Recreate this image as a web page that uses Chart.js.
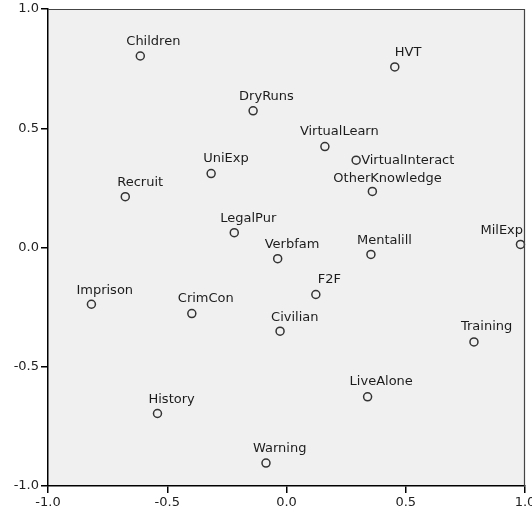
<!DOCTYPE html>
<html>
<head>
<meta charset="utf-8">
<script src="https://cdn.jsdelivr.net/npm/chart.js@4/dist/chart.umd.min.js"></script>
<style>
html,body{margin:0;padding:0;background:#fff;}
#wrap{width:532px;height:511px;position:relative;}
</style>
</head>
<body>
<div id="wrap"><canvas id="c" width="532" height="511"></canvas></div>
<script>
const labels = ["Children","HVT","DryRuns","VirtualLearn","VirtualInteract","OtherKnowledge","UniExp","Recruit","LegalPur","Verbfam","Mentalill","MilExp","Imprison","CrimCon","F2F","Civilian","Training","LiveAlone","History","Warning"];
const xValues = [-0.613,0.454,-0.140,0.161,0.292,0.360,-0.316,-0.676,-0.219,-0.037,0.354,0.981,-0.818,-0.397,0.123,-0.027,0.786,0.340,-0.541,-0.086];
const yValues = [0.803,0.757,0.573,0.423,0.366,0.235,0.310,0.213,0.062,-0.047,-0.029,0.013,-0.238,-0.277,-0.197,-0.351,-0.396,-0.626,-0.696,-0.904];
const tickValues = [-1.0,-0.5,0.0,0.5,1.0];

// label placement (pixel offsets of the text's left edge / vertical centre from the marker)
const labelPlacement = {
  "Children":[-14,-14],"HVT":[0,-14],"DryRuns":[-14,-14],"VirtualLearn":[-25,-15],
  "VirtualInteract":[5,0],"OtherKnowledge":[-39,-13],"UniExp":[-8,-15],"Recruit":[-8,-14],
  "LegalPur":[-14,-14],"Verbfam":[-13,-14],"Mentalill":[-14,-14],"MilExp":[-40,-14],
  "Imprison":[-15,-14],"CrimCon":[-14,-15],"F2F":[2,-15],"Civilian":[-9,-14],
  "Training":[-13,-15],"LiveAlone":[-18,-15],"History":[-9,-14],"Warning":[-13,-14]
};

const points = xValues.map((x,i)=>({x:x,y:yValues[i],label:labels[i]}));

const framePlugin = {
  id:'frame',
  beforeDraw(chart){
    const {ctx, chartArea:a} = chart;
    ctx.save();
    ctx.fillStyle = '#f0f0f0';
    ctx.fillRect(a.left, a.top, a.right-a.left, a.bottom-a.top);
    ctx.restore();
  },
  afterDraw(chart){
    const {ctx, chartArea:a} = chart;
    ctx.save();
    ctx.strokeStyle = '#444';
    ctx.lineWidth = 1.2;
    ctx.beginPath();
    ctx.moveTo(a.left, a.top+0.5);
    ctx.lineTo(a.right-0.5, a.top+0.5);
    ctx.lineTo(a.right-0.5, a.bottom);
    ctx.stroke();
    ctx.restore();
  }
};

const labelPlugin = {
  id:'pointLabels',
  afterDatasetsDraw(chart){
    const ctx = chart.ctx;
    const meta = chart.getDatasetMeta(0);
    ctx.save();
    ctx.font = '13px "DejaVu Sans"';
    ctx.fillStyle = '#1c1c1c';
    ctx.textAlign = 'left';
    ctx.textBaseline = 'middle';
    meta.data.forEach((el,i)=>{
      const lab = labels[i];
      const off = labelPlacement[lab] || [-10,-14];
      ctx.fillText(lab, el.x + off[0], el.y + off[1]);
    });
    ctx.restore();
  }
};

new Chart(document.getElementById('c'), {
  type:'scatter',
  data:{
    datasets:[{
      data: points,
      pointStyle:'circle',
      pointRadius:4,
      pointHoverRadius:4,
      pointBorderWidth:1.5,
      pointBorderColor:'#333',
      pointBackgroundColor:'rgba(0,0,0,0)',
      clip:false
    }]
  },
  options:{
    responsive:false,
    animation:false,
    devicePixelRatio:1,
    layout:{padding:{top:9,right:7,left:0,bottom:0}},
    plugins:{legend:{display:false},tooltip:{enabled:false}},
    scales:{
      x:{
        type:'linear', min:-1, max:1,
        afterBuildTicks(s){ s.ticks = tickValues.map(v=>({value:v})); },
        afterFit(s){ s.height = 25; s.paddingLeft = 0; s.paddingRight = 0; },
        border:{display:true,color:'#000',width:1.5},
        grid:{drawOnChartArea:false,drawTicks:true,tickLength:7,color:'#000',lineWidth:1.5},
        ticks:{padding:2,color:'#222',font:{family:'"DejaVu Sans"',size:13},maxRotation:0,
          callback:(v)=>Number(v).toFixed(1)}
      },
      y:{
        type:'linear', min:-1, max:1,
        afterBuildTicks(s){ s.ticks = tickValues.map(v=>({value:v})); },
        afterFit(s){ s.width = 48; s.paddingTop = 0; s.paddingBottom = 0; },
        border:{display:true,color:'#000',width:1.5},
        grid:{drawOnChartArea:false,drawTicks:true,tickLength:7,color:'#000',lineWidth:1.5},
        ticks:{padding:2,color:'#222',font:{family:'"DejaVu Sans"',size:13},
          callback:(v)=>Number(v).toFixed(1)}
      }
    }
  },
  plugins:[framePlugin,labelPlugin]
});
</script>
</body>
</html>
